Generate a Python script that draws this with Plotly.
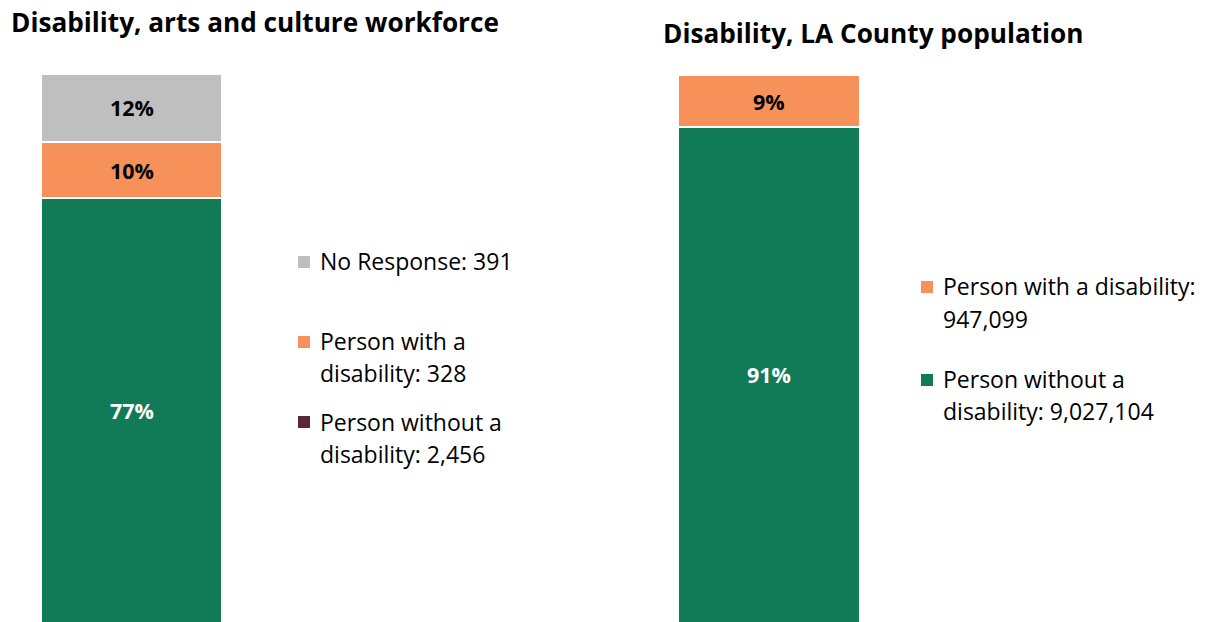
import plotly.graph_objects as go

# Shares of each group (percent) and the headcounts shown in the keys
workforce_groups = ["Person without a disability", "Person with a disability", "No Response"]
workforce_pct = [77, 10, 12]
workforce_counts = ["2,456", "328", "391"]

county_groups = ["Person without a disability", "Person with a disability"]
county_pct = [91, 9]
county_counts = ["9,027,104", "947,099"]

GREEN = "#117A57"
ORANGE = "#F6915A"
GRAY = "#BFBFBF"
MAROON = "#5B2738"
FONT = "Open Sans"

W, H = 1211, 622
workforce_colors = [GREEN, ORANGE, GRAY]
county_colors = [GREEN, ORANGE]
label_colors_wf = ["white", "black", "black"]
label_colors_ct = ["white", "black"]

# visible value ranges of each panel (bars run off the bottom edge)
wf_range = [2.0, 112.1]
ct_range = [5.4, 113.0]


def px(x):
    return x / W


def py(y):
    return 1 - y / H


fig = go.Figure()

for name, val, col in zip(workforce_groups, workforce_pct, workforce_colors):
    fig.add_trace(go.Bar(x=[0], y=[val], name=name, marker=dict(color=col, line=dict(color="white", width=2)),
                         width=1, xaxis="x", yaxis="y", showlegend=False, hoverinfo="skip"))
for name, val, col in zip(county_groups, county_pct, county_colors):
    fig.add_trace(go.Bar(x=[0], y=[val], name=name, marker=dict(color=col, line=dict(color="white", width=2)),
                         width=1, xaxis="x2", yaxis="y2", showlegend=False, hoverinfo="skip"))

annotations = []


def segment_labels(values, colors, xref, yref, lo):
    base = 0
    for v, c in zip(values, colors):
        top = base + v
        mid = (max(base, lo) + top) / 2
        annotations.append(dict(x=0, y=mid, xref=xref, yref=yref, text=f"<b>{v}%</b>", showarrow=False,
                                font=dict(family=FONT, size=21.5, color=c)))
        base = top


segment_labels(workforce_pct, label_colors_wf, "x", "y", wf_range[0])
segment_labels(county_pct, label_colors_ct, "x2", "y2", ct_range[0])

# titles
annotations.append(dict(x=px(9), y=py(22), xref="paper", yref="paper", xanchor="left", yanchor="middle",
                        text="<b>Disability, arts and culture workforce</b>", showarrow=False,
                        font=dict(family=FONT, size=26.2, color="black")))
annotations.append(dict(x=px(661), y=py(33), xref="paper", yref="paper", xanchor="left", yanchor="middle",
                        text="<b>Disability, LA County population</b>", showarrow=False,
                        font=dict(family=FONT, size=26.2, color="black")))

shapes = []


def key_entry(x_sq, y_sq, lines, line_ys, color):
    shapes.append(dict(type="rect", xref="paper", yref="paper", x0=px(x_sq), x1=px(x_sq + 12),
                       y0=py(y_sq - 6), y1=py(y_sq + 6), fillcolor=color, line=dict(width=0)))
    for t, ly in zip(lines, line_ys):
        annotations.append(dict(x=px(x_sq + 20), y=py(ly), xref="paper", yref="paper", xanchor="left",
                                yanchor="middle", text=t, showarrow=False,
                                font=dict(family=FONT, size=23, color="black")))


key_entry(298, 262, [f"No Response: {workforce_counts[2]}"], [261], GRAY)
key_entry(298, 342, ["Person with a", f"disability: {workforce_counts[1]}"], [341, 373], ORANGE)
key_entry(298, 422, ["Person without a", f"disability: {workforce_counts[0]}"], [422, 454], MAROON)

key_entry(921, 287, ["Person with a disability:", county_counts[1]], [286, 319], ORANGE)
key_entry(921, 380, ["Person without a", f"disability: {county_counts[0]}"], [379, 411], GREEN)

axis_hidden = dict(showgrid=False, zeroline=False, showticklabels=False, ticks="", showline=False, fixedrange=True)

fig.update_layout(
    width=W, height=H,
    margin=dict(l=0, r=0, t=0, b=0),
    paper_bgcolor="white", plot_bgcolor="white",
    barmode="stack", bargap=0,
    xaxis=dict(domain=[px(41), px(222)], range=[-0.5, 0.5], **axis_hidden),
    yaxis=dict(domain=[0, 1], range=wf_range, **axis_hidden),
    xaxis2=dict(domain=[px(678), px(860)], range=[-0.5, 0.5], anchor="y2", **axis_hidden),
    yaxis2=dict(domain=[0, 1], range=ct_range, anchor="x2", **axis_hidden),
    annotations=annotations,
    shapes=shapes,
    showlegend=False,
)

fig.write_html("out.html")
